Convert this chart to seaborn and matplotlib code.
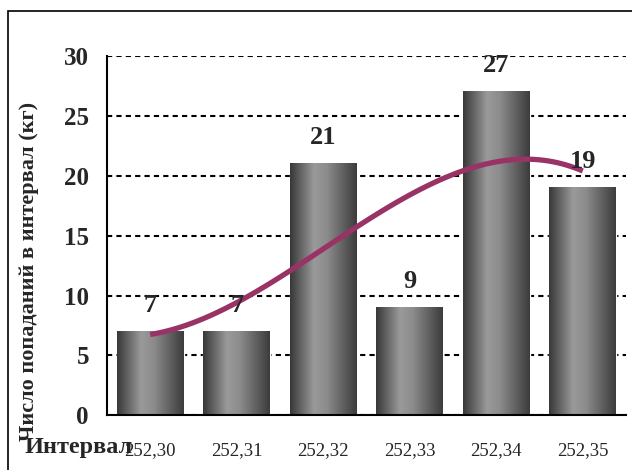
import numpy as np
import seaborn as sns
import matplotlib
matplotlib.use('Agg')
import matplotlib.pyplot as plt
from matplotlib.colors import LinearSegmentedColormap
from matplotlib.patches import Rectangle

# données
intervals = ['252,30', '252,31', '252,32', '252,33', '252,34', '252,35']
counts = [7, 7, 21, 9, 27, 19]
yticks = [0, 5, 10, 15, 20, 25, 30]
ylabel = 'Число попаданий в интервал (кг)'
xlabel = 'Интервал'

sns.set_style('white')
plt.rcParams['font.family'] = ['Liberation Serif', 'DejaVu Serif']

fig = plt.figure(figsize=(6.32, 4.70), dpi=100)
ax = fig.add_axes([0.1693, 0.1164, 0.8212, 0.7645])

positions = np.arange(len(intervals))
sns.barplot(x=intervals, y=counts, width=0.77, color='#777777', ax=ax, zorder=2)

# dégradé "cylindre" sur chaque barre
cyl = LinearSegmentedColormap.from_list(
    'cyl', [(0.0, '#383838'), (0.36, '#9a9a9a'), (0.55, '#8c8c8c'), (1.0, '#3c3c3c')])
grad = np.linspace(0, 1, 256).reshape(1, -1)
for p in ax.patches:
    x0, w, h = p.get_x(), p.get_width(), p.get_height()
    ax.imshow(grad, cmap=cyl, extent=[x0, x0 + w, 0, h], aspect='auto', zorder=2.5,
              interpolation='bilinear')

# courbe de tendance polynomiale (ordre 3)
sns.regplot(x=positions, y=counts, order=3, scatter=False, ci=None, ax=ax,
            line_kws=dict(color='#993366', lw=3.8, zorder=3, solid_capstyle='butt'))

for xi, v in zip(positions, counts):
    ax.annotate(str(v), (xi, v), xytext=(0, 14), textcoords='offset points',
                ha='center', va='baseline', fontsize=19, fontweight='bold', zorder=5)

ax.set_xlim(-0.5, 5.5)
ax.set_ylim(0, 30)
ax.set_yticks(yticks)
ax.set_yticklabels([str(t) for t in yticks], fontweight='bold')
ax.set_xticks(positions)
ax.set_xticklabels(intervals)
ax.set_xticks(np.arange(-0.5, len(intervals), 1), minor=True)
ax.tick_params(axis='y', direction='inout', length=10, width=1.5, pad=8, labelsize=18)
ax.tick_params(axis='x', which='major', length=0, pad=19, labelsize=13.5)
ax.tick_params(axis='x', which='minor', direction='out', length=5, width=1.5)
ax.set_xlabel('')

ax.yaxis.grid(True, linestyle=(0, (2.5, 2)), color='black', lw=1.5)
ax.set_axisbelow(True)
for s in ['top', 'right']:
    ax.spines[s].set_visible(False)
for s in ['left', 'bottom']:
    ax.spines[s].set_linewidth(1.5)
    ax.spines[s].set_color('black')
    ax.spines[s].set_zorder(4)

ax.set_ylabel(ylabel, fontsize=16, fontweight='bold')
ax.yaxis.set_label_coords(-0.131, 0.40)

fig.text(25 / 632, 1 - 453 / 470, xlabel, fontsize=17.5, fontweight='bold',
         ha='left', va='baseline', zorder=6)

# cadre extérieur du graphique
fig.add_artist(Rectangle((8 / 632, -0.05), 1.0, 1.0266, transform=fig.transFigure,
                         fill=False, lw=1.2, ec='black'))

fig.savefig('out.png', dpi=100)
